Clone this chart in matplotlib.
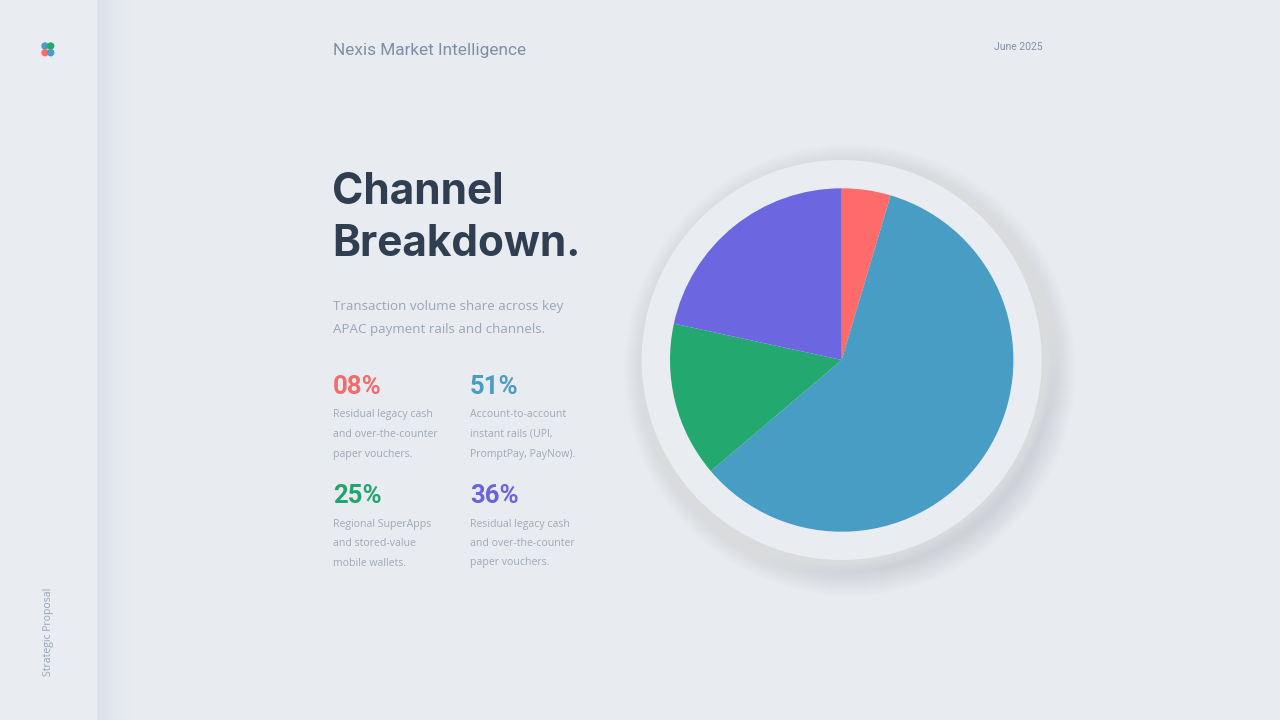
import numpy as np
import matplotlib.pyplot as plt
from matplotlib.patches import Circle, Rectangle
from matplotlib.colors import LinearSegmentedColormap

# data
labels = ["Cash / OTC", "A2A instant rails", "SuperApps / wallets", "Legacy cash"]
shares = [4.6, 59.2, 14.6, 21.6]
colors = ["#FF6B6B", "#479DC3", "#23A970", "#6C67E1"]

stat_values = ["08%", "51%", "25%", "36%"]
stat_colors = ["#F46B6B", "#4A9CC2", "#23A46E", "#6A63DA"]
stat_texts = [
    ["Residual legacy cash", "and over-the-counter", "paper vouchers."],
    ["Account-to-account", "instant rails (UPI,", "PromptPay, PayNow)."],
    ["Regional SuperApps", "and stored-value", "mobile wallets."],
    ["Residual legacy cash", "and over-the-counter", "paper vouchers."],
]

W, H = 1280, 720
BG = "#E8ECF0"

fig = plt.figure(figsize=(W / 100, H / 100), dpi=100)
fig.patch.set_facecolor(BG)

# background axes in pixel coords
bg = fig.add_axes([0, 0, 1, 1])
bg.axis("off")

# sidebar + soft shadow
grad = np.linspace(0, 1, 40)[None, :] ** 0.6
bg.imshow(grad, extent=(96, 130, H, 0), aspect="auto", zorder=1,
          cmap=LinearSegmentedColormap.from_list("sh", ["#D8DFE6", BG]))
bg.add_patch(Rectangle((0, 0), 96, H, color="#E9EDF1", zorder=2))
bg.set_xlim(0, W)
bg.set_ylim(H, 0)

# logo dots
for (x, y, c) in [(45, 46, "#4A9CC2"), (50.7, 46, "#23A970"),
                  (45, 52.7, "#FF6B6B"), (50.7, 52.7, "#4A9CC2")]:
    bg.add_patch(Circle((x, y), 3, color=c, zorder=3))

# neumorphic disc behind the pie
cx, cy, R = 841.7, 360, 200
for i in range(26):
    bg.add_patch(Circle((cx + 8, cy + 10), R + 26 - i, color="#BFCBD8", alpha=0.018, lw=0, zorder=2))
for i in range(26):
    bg.add_patch(Circle((cx - 10, cy - 12), R + 26 - i, color="#F8FAFC", alpha=0.03, lw=0, zorder=2))
bg.add_patch(Circle((cx, cy), R, color="#E9EDF1", lw=0, zorder=3))

# pie
r_px = 171.7
pax = fig.add_axes([(cx - r_px) / W, (H - cy - r_px) / H, 2 * r_px / W, 2 * r_px / H])
pax.pie(shares, colors=colors, startangle=90, counterclock=False,
        wedgeprops=dict(linewidth=0))
pax.set_xlim(-1, 1)
pax.set_ylim(-1, 1)
pax.axis("off")


def px(x, y):
    return x / W, 1 - y / H


# header
fig.text(*px(333, 51), "Nexis Market Intelligence", fontsize=12.4, color="#7F8FA6",
         family="Roboto", va="center", ha="left")
fig.text(*px(1043, 47), "June 2025", fontsize=7.5, color="#8390A5",
         family="Roboto", va="center", ha="right")

# title
fig.text(*px(332, 193), "Channel", fontsize=30.5, color="#2F3E50",
         family="Inter", weight="bold", va="center", ha="left")
fig.text(*px(332, 244), "Breakdown.", fontsize=30.5, color="#2F3E50",
         family="Inter", weight="bold", va="center", ha="left")

# subtitle
fig.text(*px(333, 306), "Transaction volume share across key", fontsize=9.6,
         color="#9AA5B6", family="Open Sans", va="center", ha="left")
fig.text(*px(333, 330), "APAC payment rails and channels.", fontsize=9.6,
         color="#9AA5B6", family="Open Sans", va="center", ha="left")

# stats grid
pos = [(333, 387), (470, 387), (333, 496), (470, 496)]
for (x, y), v, c, lines in zip(pos, stat_values, stat_colors, stat_texts):
    fig.text(*px(x, y), v, fontsize=18.5, color=c, family="Roboto",
             weight="bold", va="center", ha="left")
    for k, line in enumerate(lines):
        fig.text(*px(x, y + 28 + 19.5 * k), line, fontsize=7.6, color="#A0A9B8",
                 family="Open Sans", va="center", ha="left")

# vertical sidebar label
fig.text(*px(48, 632), "Strategic Proposal", fontsize=7.5, color="#97A3B6",
         family="Open Sans", rotation=90, va="center", ha="center")

fig.savefig("out.png", dpi=100, facecolor=BG)
